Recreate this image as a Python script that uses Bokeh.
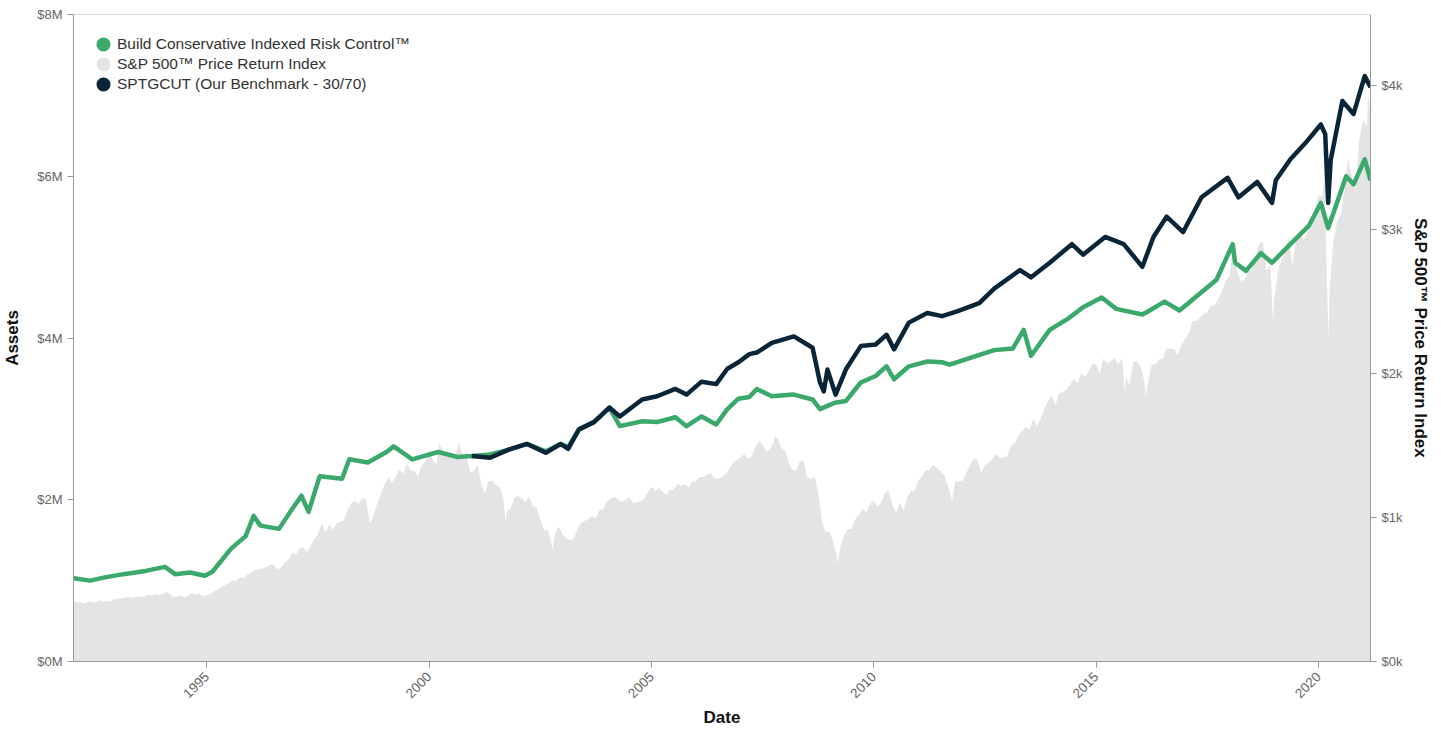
import math
import pandas as pd
from bokeh.plotting import figure
from bokeh.models import (Range1d, LinearAxis, FixedTicker, DatetimeTickFormatter,
                          Legend, LegendItem)
from bokeh.embed import file_html
from bokeh.resources import INLINE

# ---------------- data ----------------
# S&P 500 price index, month-end closes (value placed at the first day of the next month)
sp_first = "1992-01-01"   # Dec 1991 close
sp_monthly = [
    417.1,
    408.8, 412.7, 403.7, 414.9, 415.4, 408.1, 424.2, 414.0, 417.8, 418.7, 431.4, 435.7,      # 1992
    438.8, 443.4, 451.7, 440.2, 450.2, 450.5, 448.1, 463.6, 458.9, 467.8, 461.8, 466.5,      # 1993
    481.6, 467.1, 445.8, 450.9, 456.5, 444.3, 458.3, 475.5, 462.7, 472.4, 454.0, 459.3,      # 1994
    470.4, 487.4, 500.7, 514.7, 533.4, 544.8, 562.1, 561.9, 584.4, 581.5, 605.4, 615.9,      # 1995
    636.0, 640.4, 645.5, 654.2, 669.1, 670.6, 639.9, 652.0, 687.3, 705.3, 757.0, 740.7,      # 1996
    786.2, 790.8, 757.1, 801.3, 848.3, 885.1, 954.3, 899.5, 947.3, 914.6, 955.4, 970.4,      # 1997
    980.3, 1049.3, 1101.8, 1111.8, 1090.8, 1133.8, 1120.7, 957.3, 1017.0, 1098.7, 1163.6, 1229.2,  # 1998
    1279.6, 1238.3, 1286.4, 1335.2, 1301.8, 1372.7, 1328.7, 1320.4, 1282.7, 1362.9, 1388.9, 1469.3,  # 1999
    1394.5, 1366.4, 1498.6, 1452.4, 1420.6, 1454.6, 1430.8, 1517.7, 1436.5, 1429.4, 1315.2, 1320.3,  # 2000
    1366.0, 1239.9, 1160.3, 1249.5, 1255.8, 1224.4, 1211.2, 1133.6, 1040.9, 1059.8, 1139.5, 1148.1,  # 2001
    1130.2, 1106.7, 1147.4, 1076.9, 1067.1, 989.8, 911.6, 916.1, 815.3, 885.8, 936.3, 879.8,          # 2002
    855.7, 841.2, 848.2, 916.9, 963.6, 974.5, 990.3, 1008.0, 996.0, 1050.7, 1058.2, 1111.9,           # 2003
    1131.1, 1144.9, 1126.2, 1107.3, 1120.7, 1140.8, 1101.7, 1104.2, 1114.6, 1130.2, 1173.8, 1211.9,  # 2004
    1181.3, 1203.6, 1180.6, 1156.9, 1191.5, 1191.3, 1234.2, 1220.3, 1228.8, 1207.0, 1249.5, 1248.3,  # 2005
    1280.1, 1280.7, 1294.8, 1310.6, 1270.1, 1270.2, 1276.7, 1303.8, 1335.9, 1377.9, 1400.6, 1418.3,  # 2006
    1438.2, 1406.8, 1420.9, 1482.4, 1530.6, 1503.4, 1455.3, 1474.0, 1526.8, 1549.4, 1481.1, 1468.4,  # 2007
    1378.6, 1330.6, 1322.7, 1385.6, 1400.4, 1280.0, 1267.4, 1282.8, 1166.4, 968.8, 896.2, 903.3,      # 2008
    825.9, 735.1, 797.9, 872.8, 919.1, 919.3, 987.5, 1020.6, 1057.1, 1036.2, 1095.6, 1115.1,          # 2009
    1073.9, 1104.5, 1169.4, 1186.7, 1089.4, 1030.7, 1101.6, 1049.3, 1141.2, 1183.3, 1180.6, 1257.6,  # 2010
    1286.1, 1327.2, 1325.8, 1363.6, 1345.2, 1320.6, 1292.3, 1218.9, 1131.4, 1253.3, 1247.0, 1257.6,  # 2011
    1312.4, 1365.7, 1408.5, 1397.9, 1310.3, 1362.2, 1379.3, 1406.6, 1440.7, 1412.2, 1416.2, 1426.2,  # 2012
    1498.1, 1514.7, 1569.2, 1597.6, 1630.7, 1606.3, 1685.7, 1633.0, 1681.6, 1756.5, 1805.8, 1848.4,  # 2013
    1782.6, 1859.5, 1872.3, 1883.9, 1923.6, 1960.2, 1930.7, 2003.4, 1972.3, 2018.1, 2067.6, 2058.9,  # 2014
    1995.0, 2104.5, 2067.9, 2085.5, 2107.4, 2063.1, 2103.8, 1972.2, 1920.0, 2079.4, 2080.4, 2043.9,  # 2015
    1940.2, 1932.2, 2059.7, 2065.3, 2096.9, 2098.9, 2173.6, 2171.0, 2168.3, 2126.2, 2199.0, 2238.8,  # 2016
    2278.9, 2363.6, 2362.7, 2384.2, 2411.8, 2423.4, 2470.3, 2471.7, 2519.4, 2575.3, 2647.6, 2673.6,  # 2017
    2823.8, 2713.8, 2640.9, 2648.1, 2705.3, 2718.4, 2816.3, 2901.5, 2914.0, 2711.7, 2760.2, 2506.9,  # 2018
    2704.1, 2784.5, 2834.4, 2945.8, 2752.1, 2941.8, 2980.4, 2926.5, 2976.7, 3037.6, 3141.0, 3230.8,  # 2019
    3225.5, 2954.2, 2584.6, 2912.4, 3044.3, 3100.3, 3271.1, 3500.3, 3363.0, 3270.0, 3621.6, 3756.1,  # 2020
    3714.2, 3811.2,                                                                                    # 2021
]
# a few intra-month extremes that show in the area's outline
sp_extra_dates = ["2000-03-24", "2001-09-21", "2002-10-09", "2007-10-09", "2009-03-09",
                  "2010-07-02", "2011-10-03", "2015-08-25", "2016-02-11", "2018-01-26",
                  "2018-12-24", "2020-02-19", "2020-03-23", "2021-02-12", "2021-03-03"]
sp_extra_values = [1527.5, 965.8, 776.8, 1565.2, 676.5,
                   1022.6, 1099.2, 1867.6, 1829.1, 2872.9,
                   2351.1, 3386.2, 2237.4, 3934.8, 3820.0]

green_dates = ["1992-01-01", "1992-05-15", "1992-09-15", "1993-02-15", "1993-08-15", "1994-01-20",
               "1994-04-15", "1994-08-15", "1994-12-15", "1995-02-15", "1995-07-15", "1995-11-15",
               "1996-01-20", "1996-03-15", "1996-08-15", "1996-11-15", "1997-02-15", "1997-04-15",
               "1997-07-15", "1998-01-15", "1998-03-15", "1998-08-15", "1999-01-15", "1999-03-15",
               "1999-08-15", "1999-11-15", "2000-03-15", "2000-08-15", "2000-12-15", "2001-05-15",
               "2001-10-15", "2002-03-15", "2002-08-15", "2002-12-15", "2003-02-15", "2003-05-15",
               "2003-09-15", "2004-01-20", "2004-04-15", "2004-10-15", "2005-02-15", "2005-07-15",
               "2005-10-15", "2006-02-15", "2006-06-15", "2006-09-15", "2006-12-15", "2007-03-15",
               "2007-05-15", "2007-09-15", "2008-03-15", "2008-08-15", "2008-10-15", "2008-12-15",
               "2009-02-15", "2009-05-15", "2009-09-15", "2010-01-15", "2010-04-15", "2010-06-15",
               "2010-10-15", "2011-03-15", "2011-07-15", "2011-09-15", "2012-03-15", "2012-09-15",
               "2013-02-15", "2013-05-15", "2013-07-15", "2013-12-15", "2014-05-15", "2014-09-15",
               "2015-02-15", "2015-06-15", "2016-01-15", "2016-03-15", "2016-07-15", "2016-11-15",
               "2017-09-15", "2018-01-26", "2018-02-15", "2018-05-15", "2018-09-15", "2018-12-15",
               "2019-05-15", "2019-10-15", "2020-01-20", "2020-03-20", "2020-05-15", "2020-08-15",
               "2020-10-15", "2021-01-15", "2021-03-03"]
green_values = [1.03, 1.00, 1.04, 1.08, 1.12, 1.17,
                1.08, 1.10, 1.06, 1.11, 1.39, 1.55,
                1.80, 1.68, 1.64, 1.85, 2.05, 1.85,
                2.29, 2.26, 2.50, 2.46, 2.59, 2.66,
                2.50, 2.54, 2.59, 2.53, 2.54, 2.56,
                2.62, 2.69, 2.60, 2.69, 2.65, 2.87,
                2.96, 3.14, 2.91, 2.97, 2.96, 3.02,
                2.91, 3.03, 2.93, 3.12, 3.25, 3.27,
                3.37, 3.28, 3.30, 3.24, 3.12, 3.16,
                3.20, 3.22, 3.45, 3.53, 3.65, 3.49,
                3.65, 3.71, 3.70, 3.67, 3.76, 3.85,
                3.87, 4.10, 3.78, 4.10, 4.24, 4.38,
                4.50, 4.36, 4.29, 4.34, 4.45, 4.34,
                4.72, 5.16, 4.93, 4.83, 5.05, 4.93,
                5.16, 5.39, 5.67, 5.36, 5.60, 6.00,
                5.90, 6.21, 5.95]

navy_dates = ["2000-12-15", "2001-05-15", "2001-10-15", "2002-03-15", "2002-08-15", "2002-12-15",
              "2003-02-15", "2003-05-15", "2003-09-15", "2004-01-20", "2004-04-15", "2004-10-15",
              "2005-02-15", "2005-07-15", "2005-10-15", "2006-02-15", "2006-06-15", "2006-09-15",
              "2006-12-15", "2007-03-15", "2007-05-15", "2007-09-15", "2008-03-15", "2008-08-15",
              "2008-10-15", "2008-11-15", "2008-12-15", "2009-02-20", "2009-05-15", "2009-09-15",
              "2010-01-15", "2010-04-15", "2010-06-15", "2010-10-15", "2011-03-15", "2011-07-15",
              "2011-11-15", "2012-05-15", "2012-09-15", "2013-04-15", "2013-07-15", "2013-12-15",
              "2014-06-15", "2014-09-15", "2015-03-15", "2015-08-15", "2016-01-15", "2016-04-15",
              "2016-08-01", "2016-12-15", "2017-05-15", "2017-12-15", "2018-03-15", "2018-08-15",
              "2018-12-15", "2019-01-15", "2019-05-15", "2019-09-15", "2020-01-20", "2020-02-25",
              "2020-03-20", "2020-04-10", "2020-07-15", "2020-10-15", "2021-01-15", "2021-03-03"]
navy_values = [2.54, 2.52, 2.62, 2.69, 2.58, 2.69,
               2.63, 2.87, 2.96, 3.14, 3.03, 3.24,
               3.28, 3.37, 3.30, 3.46, 3.43, 3.62,
               3.70, 3.80, 3.82, 3.94, 4.02, 3.88,
               3.45, 3.34, 3.61, 3.30, 3.61, 3.90,
               3.92, 4.04, 3.86, 4.19, 4.31, 4.27,
               4.33, 4.43, 4.61, 4.84, 4.75, 4.93,
               5.16, 5.03, 5.25, 5.16, 4.88, 5.25,
               5.50, 5.31, 5.74, 5.98, 5.74, 5.93,
               5.67, 5.95, 6.21, 6.41, 6.64, 6.52,
               5.67, 6.20, 6.93, 6.77, 7.24, 7.10]

left_ticks = [0, 2e6, 4e6, 6e6, 8e6]
left_labels = ["$0M", "$2M", "$4M", "$6M", "$8M"]
right_ticks = [0, 1000, 2000, 3000, 4000]
right_labels = ["$0k", "$1k", "$2k", "$3k", "$4k"]
x_tick_years = [1995, 2000, 2005, 2010, 2015, 2020]

series_names = ["Build Conservative Indexed Risk Control™",
                "S&P 500™ Price Return Index",
                "SPTGCUT (Our Benchmark - 30/70)"]

# ---------------- styling ----------------
GREEN = "#3ba86c"
GREY = "#e4e4e4"
NAVY = "#0b2538"
FONT = "Liberation Sans"

sp = pd.DataFrame({
    "date": list(pd.date_range(sp_first, periods=len(sp_monthly), freq="MS")) + list(pd.to_datetime(sp_extra_dates)),
    "value": sp_monthly + sp_extra_values,
}).sort_values("date")
green = pd.DataFrame({"date": pd.to_datetime(green_dates), "value": [v * 1e6 for v in green_values]})
navy = pd.DataFrame({"date": pd.to_datetime(navy_dates), "value": [v * 1e6 for v in navy_values]})

p = figure(width=1433, height=730, x_axis_type="datetime",
           x_range=Range1d(pd.Timestamp("1992-01-01"), pd.Timestamp("2021-03-03")),
           y_range=Range1d(0, 8e6),
           output_backend="svg", toolbar_location=None,
           min_border_left=73, min_border_right=62, min_border_top=14, min_border_bottom=67)
p.extra_y_ranges = {"sp": Range1d(0, 4490)}
p.xgrid.visible = False
p.ygrid.visible = False
p.outline_line_color = "#dcdcdc"
p.background_fill_color = "white"

p.varea(x=sp["date"], y1=0, y2=sp["value"], fill_color=GREY, y_range_name="sp")
p.line(green["date"], green["value"], line_color=GREEN, line_width=4.5, line_join="round")
p.line(navy["date"], navy["value"], line_color=NAVY, line_width=4.5, line_join="round")

# axes
ax = p.xaxis[0]
ax.ticker = FixedTicker(ticks=[pd.Timestamp(f"{y}-01-01").value / 1e6 for y in x_tick_years])
ax.formatter = DatetimeTickFormatter(years="%Y", months="%Y", days="%Y", hours="%Y")
ax.major_label_orientation = math.pi / 4
ax.axis_label = "Date"

ay = p.yaxis[0]
ay.ticker = FixedTicker(ticks=left_ticks)
ay.major_label_overrides = dict(zip(left_ticks, left_labels))
ay.axis_label = "Assets"

ry = LinearAxis(y_range_name="sp", axis_label="S&P 500™ Price Return Index")
ry.ticker = FixedTicker(ticks=right_ticks)
ry.major_label_overrides = dict(zip(right_ticks, right_labels))
p.add_layout(ry, "right")

for a in [ax, ay, ry]:
    a.axis_line_color = "#9a9a9a"
    a.major_tick_line_color = "#9a9a9a"
    a.minor_tick_line_color = None
    a.major_tick_out = 6
    a.major_tick_in = 0
    a.major_label_text_color = "#666666"
    a.major_label_text_font = FONT
    a.major_label_text_font_size = "13px"
    a.axis_label_text_font = FONT
    a.axis_label_text_font_size = "17px"
    a.axis_label_text_font_style = "bold"
    a.axis_label_text_color = "#111111"
ax.major_label_text_font_size = "13.5px"
ax.major_label_standoff = 7
ax.axis_label_standoff = 3
ay.axis_label_standoff = 12
ry.axis_label_standoff = 6

# legend dots (renderers with a single NaN row, so nothing is drawn in the plot itself)
nan = float("nan")
legend_colors = [GREEN, GREY, NAVY]
legend_renderers = [p.scatter(x=[nan], y=[nan], marker="circle", size=8,
                              fill_color=c, line_color=c, line_width=6)
                    for c in legend_colors]
legend = Legend(items=[LegendItem(label=n, renderers=[r]) for n, r in zip(series_names, legend_renderers)],
                location="top_left", margin=20, padding=0, spacing=0,
                glyph_width=20, glyph_height=20, label_standoff=4,
                border_line_color=None, background_fill_alpha=0,
                label_text_font=FONT, label_text_font_size="15.5px", label_text_color="#333333")
p.add_layout(legend)

open("out.html", "w").write(file_html(p, INLINE))
